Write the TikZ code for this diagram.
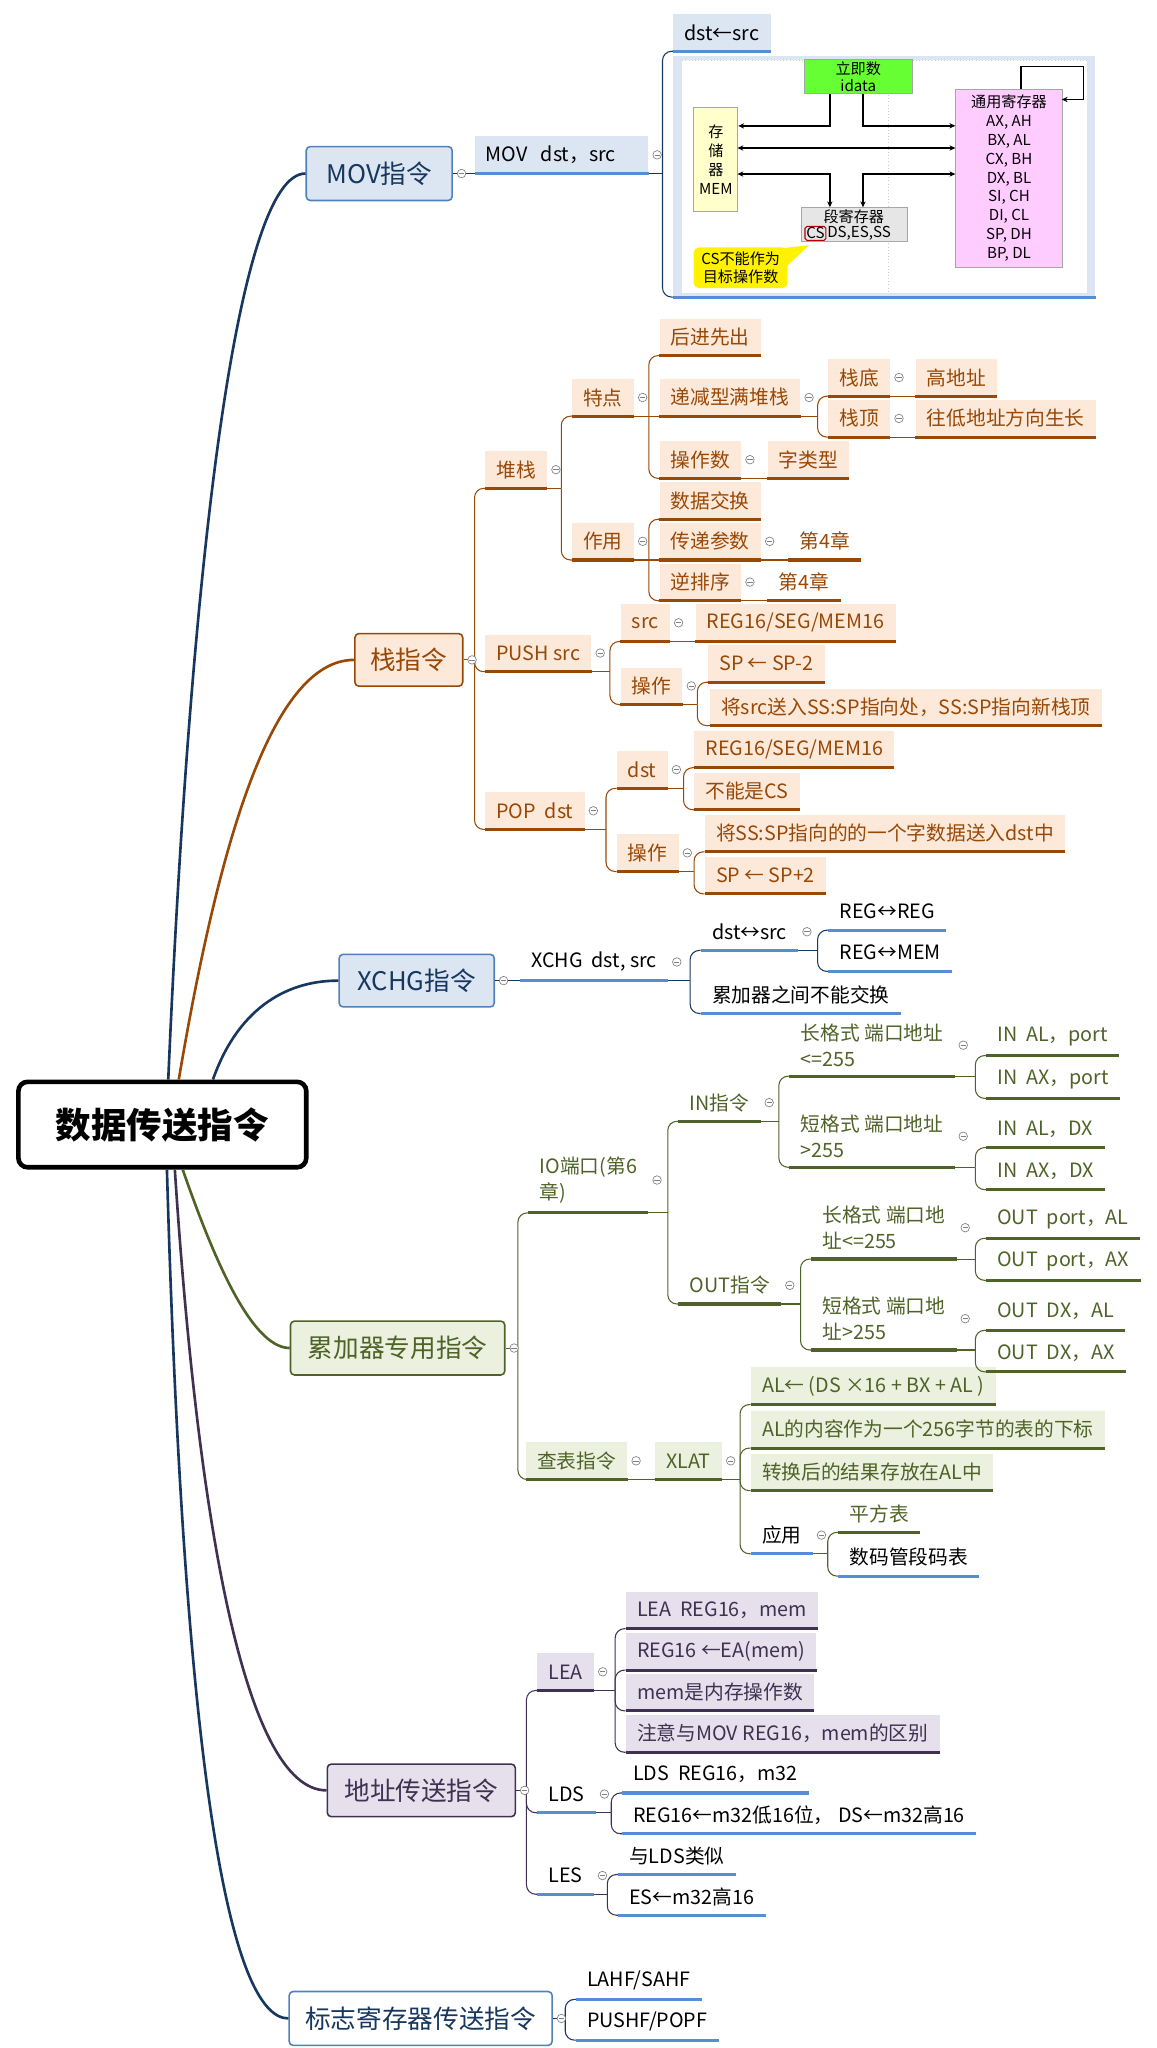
\documentclass[tikz,border=0pt]{standalone}
\usepackage{fontspec}
\setmainfont{Noto Sans CJK SC}
\usetikzlibrary{positioning, arrows.meta, calc}

\definecolor{navy}{HTML}{17375E}
\definecolor{blueln}{HTML}{4F81BD}
\definecolor{bluebar}{HTML}{558ED5}
\definecolor{movfill}{HTML}{DCE6F2}
\definecolor{stkc}{HTML}{984807}
\definecolor{stkfill}{HTML}{FDE9D9}
\definecolor{accc}{HTML}{4F6228}
\definecolor{accfill}{HTML}{EBF1DE}
\definecolor{adrc}{HTML}{3F3151}
\definecolor{adrfill}{HTML}{E5E0EC}
\definecolor{immg}{HTML}{66FF33}
\definecolor{memy}{HTML}{FFFFCC}
\definecolor{gprp}{HTML}{FFCCFF}
\definecolor{segg}{HTML}{E6E6E6}
\definecolor{mkgray}{HTML}{7F7F7F}

\newcommand\fRoot{\fontsize{27}{30}\selectfont\bfseries}
\newcommand\fOne{\fontsize{19.5}{22}\selectfont}
\newcommand\fTwo{\fontsize{15}{20}\selectfont}
\newcommand\fFig{\fontsize{11.5}{14.3}\selectfont}
\newcommand\fFigT{\fontsize{11.5}{13}\selectfont}

% parent -> children, XMind style
\newcommand\fork[4]{%
  \coordinate (jn) at ($(#2 -| #3.south west)+(-8pt,0)$);
  \draw[link,#1] (#2) -- (jn);
  \foreach \k in {#4} {
    \path let \p1=(jn), \p2=(\k.south west) in \pgfextra{\pgfmathsetmacro\dy{abs(\y2-\y1)}\xdef\dyg{\dy}};
    \ifdim\dyg pt<0.5pt
      \draw[link,#1] (jn) -- (\k.south west);
    \else
      \pgfmathsetmacro\rr{min(7,\dyg)}
      \draw[link,#1,rounded corners=\rr pt] (jn) |- (\k.south west);
    \fi
  }
}

\tikzset{
  l1/.style={draw, rounded corners=3pt, line width=1.2pt, minimum height=41pt, inner sep=0pt, font=\fOne},
  sub/.style={anchor=south west, inner xsep=8.5pt, inner ysep=0pt, minimum height=28pt, font=\fTwo},
  two/.style={sub, align=left, inner ysep=7pt},
  mv/.style={sub, fill=movfill, text=black},
  stk/.style={sub, fill=stkfill, text=stkc},
  stkn/.style={sub, text=stkc},
  acf/.style={sub, fill=accfill, text=accc},
  acn/.style={sub, text=accc},
  adf/.style={sub, fill=adrfill, text=adrc},
  bk/.style={sub, text=black},
  bar/.style={line width=2.4pt},
  link/.style={line width=0.8pt},
  trunk/.style={line width=2pt},
  mk/.style={circle, draw=mkgray, fill=white, line width=0.5pt, minimum size=6.5pt, inner sep=0pt,
    path picture={\draw[mkgray, line width=0.5pt] ([xshift=-2pt]path picture bounding box.center) -- ([xshift=2pt]path picture bounding box.center);}},
  box/.style={draw=gray!70, line width=0.6pt, inner sep=0pt, font=\fFig, align=center, anchor=north west},
  arr/.style={line width=1.1pt, black, >={Stealth[length=4.5pt, width=4pt]}},
}

\begin{document}
\begin{tikzpicture}[x=1pt, y=-1pt]
\useasboundingbox (0,0) rectangle (880,1558);

% Root
\node[draw=black, line width=3.5pt, rounded corners=7pt, fill=white, minimum width=219pt, minimum height=65pt, font=\fRoot] (root) at (123.5,855.5) {数据传送指令};

% Main topics
\node[l1, fill=movfill, draw=blueln, text=navy, minimum width=111pt] (movI) at (288.5,132) {MOV指令};
\node[l1, fill=stkfill, draw=stkc, text=stkc, minimum width=82pt, minimum height=40pt] (stkI) at (311,502) {栈指令};
\node[l1, fill=movfill, draw=blueln, text=navy, minimum width=118pt, minimum height=40pt] (xchI) at (317,746) {XCHG指令};
\node[l1, fill=accfill, draw=accc, text=accc, minimum width=163pt] (accI) at (302.5,1025.5) {累加器专用指令};
\node[l1, fill=adrfill, draw=adrc, text=adrc, minimum width=143pt, minimum height=40pt] (adrI) at (320.5,1362) {地址传送指令};
\node[l1, fill=white, draw=blueln, text=navy, minimum width=200pt] (flgI) at (320,1535.5) {标志寄存器传送指令};

\draw[trunk, navy] ([xshift=4.5pt]root.north) .. controls (145,430) and (180,132) .. (movI.west);
\draw[trunk, stkc] ([xshift=12.5pt]root.north) .. controls (165,650) and (205,502) .. (stkI.west);
\draw[trunk, navy] ([xshift=38.5pt]root.north) .. controls (180,770) and (215,746) .. (xchI.west);
\draw[trunk, accc] ([xshift=15.5pt]root.south) .. controls (160,950) and (190,1025.5) .. (accI.west);
\draw[trunk, adrc] ([xshift=9.5pt]root.south) .. controls (150,1150) and (185,1362) .. (adrI.west);
\draw[trunk, navy] ([xshift=3.5pt]root.south) .. controls (140,1350) and (175,1535.5) .. (flgI.west);

% MOV
\node[mv, text width=115pt, align=left] (movA) at (361,132) {MOV\ \ dst，src};
\node[mv] (dst) at (512,39) {dst←src};
\node[fill=movfill, minimum width=321pt, minimum height=183pt, inner sep=0pt, anchor=south west] (movfig) at (512,226) {};
\fill[white] (519,46) rectangle (827,223);
\draw[gray!40, dotted] (519,46) -- (827,46);
\draw[gray!40, dotted] (676,46) -- (676,222);
\node[box, fill=immg, minimum width=82pt, minimum height=26pt, font=\fFigT] (imm) at (611.6,45) {立即数\\idata};
\node[box, fill=memy, minimum width=33.5pt, minimum height=79pt] (mem) at (527.5,81.7) {存\\储\\器\\MEM};
\node[box, fill=gprp, minimum width=81pt, minimum height=135.5pt] (gpr) at (726.8,67.5) {通用寄存器\\AX, AH\\BX, AL\\CX, BH\\DX, BL\\SI, CH\\DI, CL\\SP, DH\\BP, DL};
\node[box, fill=segg, minimum width=81pt, minimum height=25.3pt] (seg) at (609,157.7) {};
\node[font=\fFig, inner sep=0pt] (segt) at (649.5,164.5) {段寄存器};
\node[font=\fFig, draw=red!70!black, rounded corners=1.5pt, line width=0.8pt, inner sep=1pt, anchor=west] (cs) at (612,177.5) {CS};
\node[font=\fFig, inner sep=0.5pt, anchor=west] (segr) at (cs.east) {DS,ES,SS};
\fill[yellow] (585,190) -- (615.5,186.5) -- (598,203) -- cycle;
\node[fill=yellow, rounded corners=4pt, minimum width=71.5pt, minimum height=31pt, font=\fFigT, align=center, inner sep=0pt, anchor=north west] (cal) at (527.5,188) {CS不能作为\\目标操作数};
\draw[arr, ->] ([xshift=19.7pt]imm.south west) |- ([yshift=-14.1pt]mem.north east);
\draw[arr, ->] ([xshift=44.9pt]imm.south west) |- ([yshift=-28.2pt]gpr.north west);
\draw[arr, <->] (561,112.6) -- (726.8,112.6);
\draw[arr, <->] (561,132.4) -| (631.3,157.7);
\draw[arr, <->] (726.8,132.4) -| (656.5,157.7);
\draw[arr, ->] (776.6,67.5) |- (824.3,50.7) |- (807.7,75.7);
\draw[bluebar, bar] (movfig.south west) -- (movfig.south east);
\fork{navy}{movI.east}{movA}{movA}
\fork{navy}{movA.south east}{dst}{dst,movfig}

% Stack
\node[stk] (heap) at (369,371.5) {堆栈};
\node[stk] (trait) at (435,316.6) {特点};
\node[stk] (use) at (435,426) {作用};
\node[stk] (lifo) at (501.6,270.5) {后进先出};
\node[stk] (full) at (501.6,316.6) {递减型满堆栈};
\node[stk] (sbot) at (630,301.4) {栈底};
\node[stk] (hiadr) at (696.4,301.4) {高地址};
\node[stk] (stop) at (630,332.5) {栈顶};
\node[stk] (grow) at (696.4,332.5) {往低地址方向生长};
\node[stk] (opnd) at (501.6,363.9) {操作数};
\node[stk] (wtype) at (583.7,363.9) {字类型};
\node[stk] (swap) at (501.6,395) {数据交换};
\node[stk] (param) at (501.6,426) {传递参数};
\node[stkn] (chA) at (599.6,426) {第4章};
\node[stk] (rev) at (501.6,457) {逆排序};
\node[stkn] (chB) at (583.7,457) {第4章};
\node[stk] (push) at (369,511) {PUSH src};
\node[stk] (psrc) at (472,488) {src};
\node[stk] (preg) at (529,488) {REG16/SEG/MEM16};
\node[stk] (pshop) at (472,536) {操作};
\node[stk] (spm) at (538.5,519) {SP ← SP-2};
\node[stk] (psend) at (540,552) {将src送入SS:SP指向处，SS:SP指向新栈顶};
\node[stk] (popI) at (369,631) {POP\ \ dst};
\node[stk] (pdst) at (469,599.7) {dst};
\node[stk] (dreg) at (528,584) {REG16/SEG/MEM16};
\node[stk] (nocs) at (528,616) {不能是CS};
\node[stk] (ppop) at (469,663) {操作};
\node[stk] (pget) at (536,648) {将SS:SP指向的的一个字数据送入dst中};
\node[stk] (spp) at (536,680) {SP ← SP+2};
\foreach \n in {heap,trait,use,lifo,full,sbot,hiadr,stop,grow,opnd,wtype,swap,param,chA,rev,chB,push,psrc,preg,pshop,spm,psend,popI,pdst,dreg,nocs,ppop,pget,spp}
  \draw[stkc, bar] (\n.south west) -- (\n.south east);
\fork{stkc}{stkI.east}{heap}{heap,push,popI}
\fork{stkc}{heap.south east}{trait}{trait,use}
\fork{stkc}{trait.south east}{lifo}{lifo,full,opnd}
\fork{stkc}{full.south east}{sbot}{sbot,stop}
\fork{stkc}{sbot.south east}{hiadr}{hiadr}
\fork{stkc}{stop.south east}{grow}{grow}
\fork{stkc}{opnd.south east}{wtype}{wtype}
\fork{stkc}{use.south east}{swap}{swap,param,rev}
\fork{stkc}{param.south east}{chA}{chA}
\fork{stkc}{rev.south east}{chB}{chB}
\fork{stkc}{push.south east}{psrc}{psrc,pshop}
\fork{stkc}{psrc.south east}{preg}{preg}
\fork{stkc}{pshop.south east}{spm}{spm,psend}
\fork{stkc}{popI.south east}{pdst}{pdst,ppop}
\fork{stkc}{pdst.south east}{dreg}{dreg,nocs}
\fork{stkc}{ppop.south east}{pget}{pget,spp}

% XCHG
\node[bk] (xchA) at (395.5,746) {XCHG\ \ dst, src};
\node[bk] (xsw) at (533,723) {dst↔src};
\node[bk] (rr) at (630,707.6) {REG↔REG};
\node[bk] (rm) at (630,739) {REG↔MEM};
\node[bk] (acc) at (533,771) {累加器之间不能交换};
\fork{navy}{xchI.east}{xchA}{xchA}
\fork{navy}{xchA.south east}{xsw}{xsw,acc}
\fork{navy}{xsw.south east}{rr}{rr,rm}

% Accumulator
\node[two, text=accc] (io) at (402,922.7) {IO端口(第6\\章)};
\node[acn] (inI) at (516,853) {IN指令};
\node[acn] (outI) at (516,992) {OUT指令};
\node[two, text=accc] (inL) at (600.5,818.7) {长格式 端口地址\\<=255};
\node[two, text=accc] (inS) at (600.5,888) {短格式 端口地址\\>255};
\node[two, text=accc] (outL) at (617,957.8) {长格式 端口地\\址<=255};
\node[two, text=accc] (outS) at (617,1027) {短格式 端口地\\址>255};
\node[acn] (inALp) at (750,803) {IN\ \ AL，port};
\node[acn] (inAXp) at (750,835.6) {IN\ \ AX，port};
\node[acn] (inALd) at (750,873) {IN\ \ AL，DX};
\node[acn] (inAXd) at (750,905) {IN\ \ AX，DX};
\node[acn] (outpAL) at (750,942) {OUT\ \ port，AL};
\node[acn] (outpAX) at (750,974) {OUT\ \ port，AX};
\node[acn] (outDAL) at (750,1012) {OUT\ \ DX，AL};
\node[acn] (outDAX) at (750,1043.6) {OUT\ \ DX，AX};
\node[acf] (look) at (400,1125.5) {查表指令};
\node[acf] (xlat) at (498,1125.5) {XLAT};
\node[acf] (x1) at (571,1068.5) {AL← (DS ×16 + BX + AL )};
\node[acf] (x2) at (571,1101.6) {AL的内容作为一个256字节的表的下标};
\node[acf] (x3) at (571,1134) {转换后的结果存放在AL中};
\node[bk] (app) at (571,1182) {应用};
\node[acn] (sq) at (637.7,1165.7) {平方表};
\node[bk] (seg7) at (637.7,1199) {数码管段码表};
\foreach \n in {io,inI,outI,inL,inS,outL,outS,inALp,inAXp,inALd,inAXd,outpAL,outpAX,outDAL,outDAX,look,xlat,x1,x2,x3,sq}
  \draw[accc, bar] (\n.south west) -- (\n.south east);
\fork{accc}{accI.east}{io}{io,look}
\fork{accc}{io.south east}{inI}{inI,outI}
\fork{accc}{inI.south east}{inL}{inL,inS}
\fork{accc}{outI.south east}{outL}{outL,outS}
\fork{accc}{inL.south east}{inALp}{inALp,inAXp}
\fork{accc}{inS.south east}{inALd}{inALd,inAXd}
\fork{accc}{outL.south east}{outpAL}{outpAL,outpAX}
\fork{accc}{outS.south east}{outDAL}{outDAL,outDAX}
\fork{accc}{look.south east}{xlat}{xlat}
\fork{accc}{xlat.south east}{x1}{x1,x2,x3,app}
\fork{accc}{app.south east}{sq}{sq,seg7}

% Address
\node[adf] (lea) at (408.5,1286) {LEA};
\node[adf] (la) at (476,1239) {LEA\ \ REG16，mem};
\node[adf] (lb) at (476,1270.5) {REG16 ←EA(mem)};
\node[adf] (lc) at (476,1301.5) {mem是内存操作数};
\node[adf] (ld) at (476,1333) {注意与MOV REG16，mem的区别};
\node[bk] (lds) at (408.5,1379) {LDS};
\node[bk] (d1) at (473,1364) {LDS\ \ REG16，m32};
\node[bk] (d2) at (473,1395) {REG16←m32低16位，\ DS←m32高16};
\node[bk] (les) at (408.5,1441) {LES};
\node[bk] (e1) at (470,1426) {与LDS类似};
\node[bk] (e2) at (470,1457) {ES←m32高16};
\foreach \n in {lea,la,lb,lc,ld}
  \draw[adrc, bar] (\n.south west) -- (\n.south east);
\fork{adrc}{adrI.east}{lea}{lea,lds,les}
\fork{adrc}{lea.south east}{la}{la,lb,lc,ld}
\fork{adrc}{lds.south east}{d1}{d1,d2}
\fork{adrc}{les.south east}{e1}{e1,e2}

% Flags
\node[bk] (f1) at (438,1521) {LAHF/SAHF};
\node[bk] (f2) at (438,1552) {PUSHF/POPF};
\fork{navy}{flgI.east}{f1}{f1,f2}

% Blue bars
\foreach \n in {movA,dst,xchA,xsw,rr,rm,acc,app,seg7,lds,d1,d2,les,e1,e2,f1,f2}
  \draw[bluebar, bar] (\n.south west) -- (\n.south east);

% Collapse markers
\foreach \n in {movI,movA,stkI,heap,trait,full,sbot,stop,opnd,use,param,rev,push,psrc,pshop,popI,pdst,ppop,xchI,xchA,xsw,accI,io,inI,outI,inL,inS,outL,outS,look,xlat,app,adrI,lea,lds,les,flgI}
  \node[mk] at ([xshift=6.5pt]\n.east) {};

\end{tikzpicture}
\end{document}
